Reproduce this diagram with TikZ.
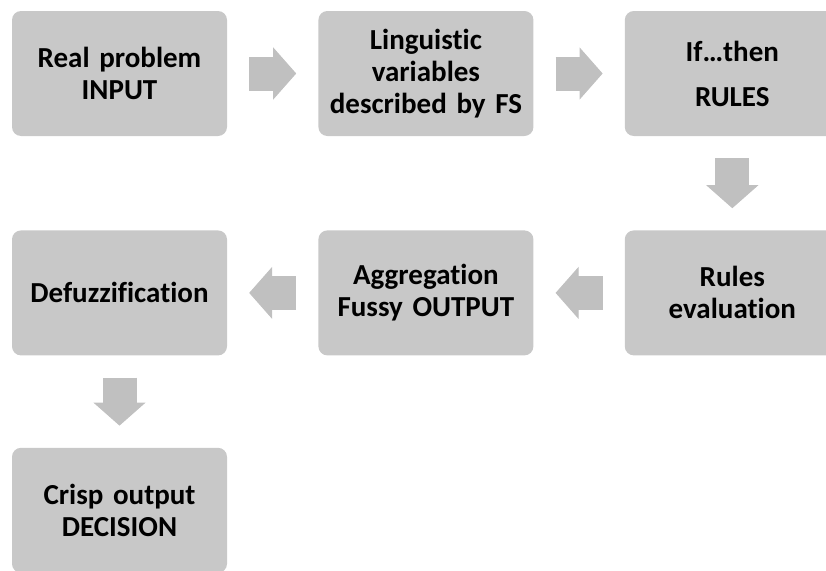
\documentclass[tikz,border=0pt]{standalone}
\usepackage{fontspec}
\setmainfont{Carlito}[Ligatures=NoCommon]
\usepackage{xcolor}
\usepackage{tikz}
\usetikzlibrary{arrows.meta,positioning}
\definecolor{boxgray}{RGB}{200,200,200}
\definecolor{arrowgray}{RGB}{192,192,192}
\tikzstyle{block} = [rectangle, fill=boxgray, text width=210pt, align=center,
    rounded corners=9pt, minimum width=215pt, minimum height=125pt, inner sep=0pt,
    font=\bfseries\fontsize{29}{32}\selectfont]
\tikzstyle{arrow} = [draw=arrowgray, line width=34pt,
    -{Triangle[width=52pt, length=23pt, line width=1pt]}, shorten <=22pt, shorten >=22pt]

\begin{document}
\begin{tikzpicture}[node distance = 91pt and 91pt]
			\useasboundingbox (0,0) rectangle (826pt,-570pt);
			% Place nodes
			\node [block] (input) at (119.5pt,-73.5pt) {Real problem\\INPUT};
			\node [block, right=of input] (linguistic) {Linguistic\\variables\\described by FS};
			\node [block, right=of linguistic] (rules) {If…then\\[13pt]RULES};
			\node [block, below=94pt of rules] (evaluation) {Rules\\evaluation};
			\node [block, left=of evaluation] (aggregation) {Aggregation\\Fussy OUTPUT};
			\node [block, left=of aggregation] (defuzz) {Defuzzification};
			\node [block, below=92pt of defuzz] (decision) {Crisp output\\DECISION};
			%
			\path [arrow] (input) -- (linguistic);
			\path [arrow] (linguistic) -- (rules);
			\path [arrow] (rules) -- (evaluation);
			\path [arrow] (evaluation) -- (aggregation);
			\path [arrow] (aggregation) -- (defuzz);
			\path [arrow] (defuzz) -- (decision);
	\end{tikzpicture}
\end{document}
